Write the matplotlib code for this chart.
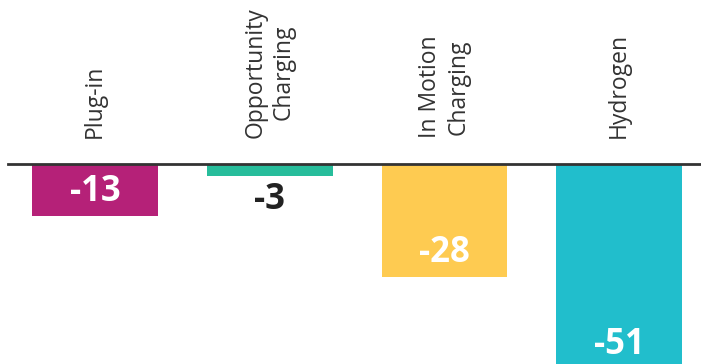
import matplotlib.pyplot as plt

# data
categories = ['Plug-in', 'Opportunity\nCharging', 'In Motion\nCharging', 'Hydrogen']
values = [-13, -3, -28, -51]
colors = ['#B52178', '#27BD9B', '#FECB51', '#21BECC']

plt.rcParams['font.family'] = ['Open Sans', 'DejaVu Sans']

fig = plt.figure(figsize=(7.01, 3.64), dpi=100)
ax = fig.add_axes([0, 0, 1, 1])

x = range(len(values))
ax.bar(x, values, width=0.72, color=colors)

# px scale: 174.7 px per category, 4 px per unit, baseline at y=164.5
ax.set_xlim(-95 / 174.7, (701 - 95) / 174.7)
ax.set_ylim(-(364 - 164.5) / 4, 164.5 / 4)
ax.axhline(0, xmin=8 / 701, xmax=1, color='#333333', lw=2)

for i, (cat, v) in enumerate(zip(categories, values)):
    ax.text(i, 6.6, cat, rotation=90, ha='center', va='bottom',
            fontsize=16.5, color='#333333', linespacing=1.25)
    if v < -6:
        ax.text(i, v + 6, str(v), ha='center', va='center', fontsize=25,
                fontweight='bold', color='white')
    else:
        ax.text(i, v - 6, str(v), ha='center', va='center', fontsize=25,
                fontweight='bold', color='#222222')

ax.axis('off')
fig.savefig('out.png', dpi=100)
